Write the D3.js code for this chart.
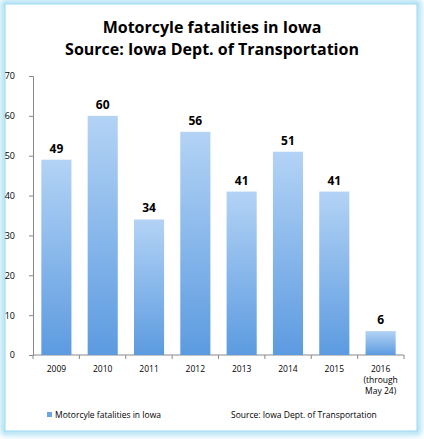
<!DOCTYPE html>
<html><head><meta charset="utf-8">
<script src="https://cdn.jsdelivr.net/npm/d3@7"></script>
<style>body{margin:0;background:#fff;font-family:"Open Sans",sans-serif;}</style>
</head><body><div id="chart"></div>
<script>
var years = ["2009","2010","2011","2012","2013","2014","2015","2016"];
var fatalities = [49, 60, 34, 56, 41, 51, 41, 6];
var yTicks = [0,10,20,30,40,50,60,70];
var width = 424, height = 439;
var plotL = 33, plotR = 404, plotT = 76, plotB = 355;

var svg = d3.select("#chart").append("svg").attr("width", width).attr("height", height);
var defs = svg.append("defs");
var glow = defs.append("filter").attr("id","glow").attr("x","-5%").attr("y","-5%").attr("width","110%").attr("height","110%");
glow.append("feGaussianBlur").attr("stdDeviation", 3);
var grad = defs.append("linearGradient").attr("id","bar").attr("x1",0).attr("y1",0).attr("x2",0).attr("y2",1);
grad.append("stop").attr("offset","0%").attr("stop-color","#b3d3f5");
grad.append("stop").attr("offset","100%").attr("stop-color","#5c9be0");

svg.append("rect").attr("x",4).attr("y",3).attr("width",414).attr("height",429)
    .attr("fill","none").attr("stroke","#8fd6f0").attr("stroke-width",5).attr("filter","url(#glow)");
svg.append("rect").attr("x",5).attr("y",4).attr("width",412).attr("height",427)
    .attr("fill","#fff").attr("stroke","#9ad9ef").attr("stroke-width",1);

svg.append("text").attr("x",212).attr("y",33).attr("text-anchor","middle")
    .style("font-size","16px").style("font-weight","bold").text("Motorcyle fatalities in Iowa");
svg.append("text").attr("x",212).attr("y",55).attr("text-anchor","middle")
    .style("font-size","16px").style("font-weight","bold").text("Source: Iowa Dept. of Transportation");

var x = d3.scaleBand().domain(years).range([plotL, plotR]).paddingInner(0.35).paddingOuter(0.18);
var y = d3.scaleLinear().domain([0, 70]).range([plotB, plotT]);

var yAxis = svg.append("g").attr("transform","translate(" + plotL + ",0)")
    .call(d3.axisLeft(y).tickValues(yTicks).tickSize(4).tickPadding(14));
yAxis.selectAll("text").style("font-size","9px").style("font-family","Open Sans");
yAxis.selectAll("line,path").attr("stroke","#888");

svg.append("line").attr("x1",plotL).attr("x2",plotR).attr("y1",plotB).attr("y2",plotB).attr("stroke","#888");
// category separators
svg.selectAll(".sep").data(d3.range(years.length + 1)).enter().append("line")
    .attr("x1", function(i){return plotL + i * (plotR-plotL)/years.length;})
    .attr("x2", function(i){return plotL + i * (plotR-plotL)/years.length;})
    .attr("y1", plotB).attr("y2", plotB + 4).attr("stroke","#888");

svg.selectAll(".bar").data(fatalities).enter().append("rect")
    .attr("x", function(d,i){return x(years[i]);})
    .attr("width", x.bandwidth())
    .attr("y", function(d){return y(d);})
    .attr("height", function(d){return plotB - y(d);})
    .attr("fill","url(#bar)");

svg.selectAll(".val").data(fatalities).enter().append("text")
    .attr("x", function(d,i){return x(years[i]) + x.bandwidth()/2;})
    .attr("y", function(d){return y(d) - 7;})
    .attr("text-anchor","middle").style("font-size","12px").style("font-weight","bold")
    .text(function(d){return d;});

var labels = years.map(function(d){return d === "2016" ? ["2016","(through","May 24)"] : [d];});
svg.selectAll(".xl").data(labels).enter().append("text")
    .attr("x", function(d,i){return x(years[i]) + x.bandwidth()/2;})
    .attr("y", plotB + 17).attr("text-anchor","middle").style("font-size","8.5px")
    .each(function(d){
        var t = d3.select(this);
        d.forEach(function(s,k){ t.append("tspan").attr("x", t.attr("x")).attr("dy", k ? 11 : 0).text(s); });
    });

svg.append("rect").attr("x",47).attr("y",412).attr("width",5).attr("height",5).attr("fill","#6aa5e4");
svg.append("text").attr("x",55).attr("y",418).style("font-size","8.5px").text("Motorcyle fatalities in Iowa");
svg.append("text").attr("x",231).attr("y",418).style("font-size","8.5px").text("Source: Iowa Dept. of Transportation");
</script></body></html>
